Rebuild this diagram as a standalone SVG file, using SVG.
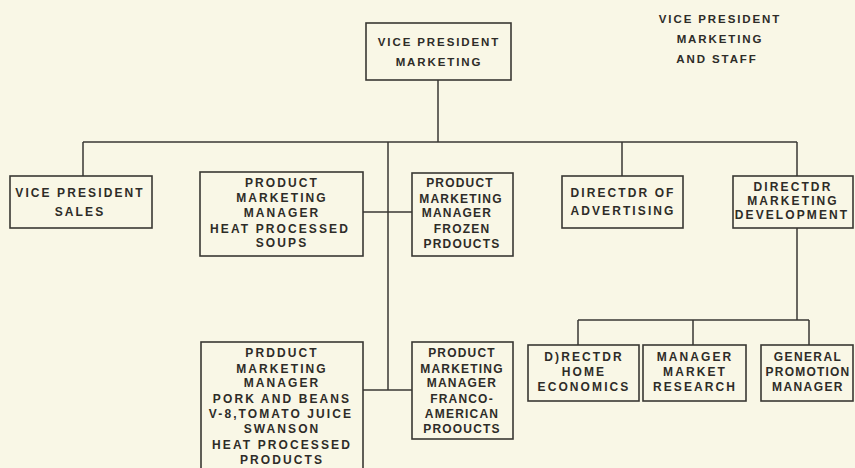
<svg xmlns="http://www.w3.org/2000/svg" width="855" height="468" viewBox="0 0 855 468">
<style>
.bg{fill:#f9f7e6}
.box{fill:#f9f7e6;stroke:#3a3834;stroke-width:1.6}
.ln{fill:none;stroke:#3a3834;stroke-width:1.5}
text{font-family:"Liberation Sans",Arial,sans-serif;font-weight:bold;font-size:12px;letter-spacing:2.1px;fill:#2e2c28;text-anchor:middle}
.sm{font-size:11.5px;letter-spacing:1.9px}
.nar{letter-spacing:1.2px}
</style>
<rect class="bg" x="0" y="0" width="855" height="468"/>
<g id="connectors">
<path class="ln" d="M438,80 V142 M83,142 H797 M83,142 V176 M388,142 V390 M363,212 H412 M363,390 H412 M622,142 V176 M797,142 V176 M797,228 V320 M578,320 H809 M578,320 V345 M693,320 V345 M809,320 V345"/>
</g>
<g id="staff_label">
<text class="sm" x="720" y="23">VICE PRESIDENT</text>
<text class="sm" x="720" y="43">MARKETING</text>
<text class="sm" x="717" y="63">AND STAFF</text>
</g>
<g id="vp_marketing">
<rect class="box" x="366" y="23" width="145" height="57"/>
<text class="sm" x="439" y="46">VICE PRESIDENT</text>
<text class="sm" x="439" y="66">MARKETING</text>
</g>
<g id="vp_sales">
<rect class="box" x="10" y="176" width="142" height="52"/>
<text x="80" y="197">VICE PRESIDENT</text>
<text x="80" y="216">SALES</text>
</g>
<g id="pmm_soups">
<rect class="box" x="200" y="172" width="163" height="84"/>
<text x="282" y="187">PRODUCT</text>
<text x="282" y="202">MARKETING</text>
<text x="282" y="217">MANAGER</text>
<text x="280" y="233">HEAT PROCESSED</text>
<text x="282" y="247">SOUPS</text>
</g>
<g id="pmm_frozen">
<rect class="box" x="412" y="173" width="101" height="83"/>
<text class="nar" x="460" y="187">PRODUCT</text>
<text class="nar" x="461" y="203">MARKETING</text>
<text class="nar" x="457" y="217">MANAGER</text>
<text class="nar" x="462" y="233">FROZEN</text>
<text class="nar" x="462" y="248">PRDOUCTS</text>
</g>
<g id="dir_advertising">
<rect class="box" x="562" y="176" width="121" height="52"/>
<text x="623" y="197">DIRECTDR OF</text>
<text x="623" y="215">ADVERTISING</text>
</g>
<g id="dir_mkt_dev">
<rect class="box" x="733" y="176" width="120" height="52"/>
<text x="793" y="191">DIRECTDR</text>
<text x="793" y="205">MARKETING</text>
<text x="792" y="219">DEVELOPMENT</text>
</g>
<g id="pmm_pork">
<rect class="box" x="201" y="342" width="162" height="140"/>
<text x="282" y="357">PRDDUCT</text>
<text x="282" y="373">MARKETING</text>
<text x="282" y="387">MANAGER</text>
<text x="282" y="403">PORK AND BEANS</text>
<text x="281" y="418">V-8,TOMATO JUICE</text>
<text x="282" y="433">SWANSON</text>
<text x="282" y="449">HEAT PROCESSED</text>
<text x="282" y="464">PRODUCTS</text>
</g>
<g id="pmm_franco">
<rect class="box" x="412" y="342" width="101" height="97"/>
<text class="nar" x="462" y="357">PRODUCT</text>
<text class="nar" x="462" y="373">MARKETING</text>
<text class="nar" x="462" y="387">MANAGER</text>
<text class="nar" x="462" y="403">FRANCO-</text>
<text class="nar" x="462" y="418">AMERICAN</text>
<text class="nar" x="462" y="433">PROOUCTS</text>
</g>
<g id="dir_home_econ">
<rect class="box" x="528" y="345" width="111" height="56"/>
<text x="584" y="361">D)RECTDR</text>
<text x="584" y="376">HOME</text>
<text x="584" y="391">ECONOMICS</text>
</g>
<g id="mgr_market_research">
<rect class="box" x="643" y="345" width="103" height="56"/>
<text x="695" y="361">MANAGER</text>
<text x="695" y="376">MARKET</text>
<text x="695" y="391">RESEARCH</text>
</g>
<g id="gen_promo_mgr">
<rect class="box" x="761" y="345" width="92" height="56"/>
<text x="808" y="361" style="letter-spacing:1.4px">GENERAL</text>
<text x="808" y="376" style="letter-spacing:1.2px">PROMOTION</text>
<text x="808" y="391" style="letter-spacing:1.4px">MANAGER</text>
</g>
</svg>
